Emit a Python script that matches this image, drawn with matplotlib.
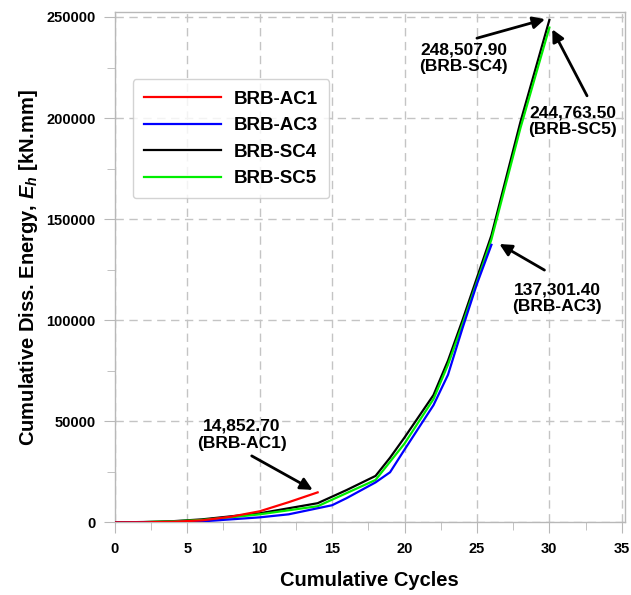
import matplotlib.pyplot as plt
from matplotlib.ticker import MultipleLocator

plt.rcParams['font.family'] = ['Liberation Sans', 'DejaVu Sans']
plt.rcParams['font.weight'] = 'bold'
plt.rcParams['mathtext.fontset'] = 'custom'
plt.rcParams['mathtext.rm'] = 'Liberation Sans:bold'
plt.rcParams['mathtext.it'] = 'Liberation Sans:italic:bold'

# cumulative cycles vs cumulative dissipated energy (kN.mm)
ac1_cycles = [0, 2, 4, 6, 8, 10, 12, 14]
ac1_energy = [0, 50, 300, 1000, 2800, 5500, 10000, 14852.70]

ac3_cycles = [0, 4, 6, 8, 10, 12, 13, 15, 16, 18, 19, 20, 21, 22, 23, 24, 25, 26]
ac3_energy = [0, 200, 500, 1500, 2500, 4000, 5500, 8500, 12000, 19800, 24800,
              36000, 47000, 58000, 73000, 96000, 118000, 137301.40]

sc4_cycles = [0, 2, 4, 6, 8, 10, 12, 14, 16, 18, 19, 20, 22, 23, 24, 26, 28, 30]
sc4_energy = [0, 200, 600, 1500, 3000, 4500, 7000, 9500, 16000, 23000, 32000,
              42000, 63000, 80000, 100000, 142000, 198000, 248507.90]

sc5_cycles = [0, 2, 4, 6, 8, 10, 12, 14, 16, 18, 19, 20, 22, 23, 24, 26, 28, 30]
sc5_energy = [0, 150, 500, 1200, 2500, 4000, 6000, 8000, 14500, 21000, 30000,
              39000, 61000, 78000, 98000, 140000, 195000, 244763.50]

fig = plt.figure(figsize=(6.31, 5.95), dpi=100)
ax = fig.add_axes([0.182, 0.122, 0.808, 0.858])

ax.plot(ac1_cycles, ac1_energy, color='#ff0000', lw=1.6, label='BRB-AC1', zorder=6)
ax.plot(ac3_cycles, ac3_energy, color='#0000ff', lw=1.6, label='BRB-AC3', zorder=5)
ax.plot(sc4_cycles, sc4_energy, color='black', lw=1.6, label='BRB-SC4', zorder=3)
ax.plot(sc5_cycles, sc5_energy, color='#00ee00', lw=1.6, label='BRB-SC5', zorder=4)

ax.set_xlim(0, 35.2)
ax.set_ylim(0, 252500)
ax.xaxis.set_major_locator(MultipleLocator(5))
ax.xaxis.set_minor_locator(MultipleLocator(2.5))
ax.yaxis.set_major_locator(MultipleLocator(50000))
ax.yaxis.set_minor_locator(MultipleLocator(25000))

ax.grid(True, which='major', color='#c4c4c4', ls=(0, (6, 4)), lw=1.0)
for s in ax.spines.values():
    s.set_color('#b8b8b8')
    s.set_linewidth(1.0)
ax.tick_params(which='both', color='#b8b8b8', direction='out', labelsize=10.5, pad=6)
ax.tick_params(which='major', length=8)
ax.tick_params(which='minor', length=6)

ax.set_xlabel('Cumulative Cycles', fontsize=14.5, fontweight='bold', labelpad=11)
ax.set_ylabel(r'Cumulative Diss. Energy, $E_h$ [kN.mm]', fontsize=14.5,
              fontweight='bold', labelpad=4)

leg = ax.legend(loc='upper left', bbox_to_anchor=(0.035, 0.868), borderaxespad=0,
                fontsize=13.5, handlelength=4.1, handletextpad=0.7, labelspacing=0.5,
                frameon=True, fancybox=True, edgecolor='#c8c8c8', borderpad=0.6)
leg.get_frame().set_linewidth(1.0)

# value callouts: (label, text position, arrow tail, arrow head)
callouts = [
    ('14,852.70\n(BRB-AC1)', (8.76, 43300), (9.45, 32900), (13.66, 16100)),
    ('248,507.90\n(BRB-SC4)', (24.1, 229600), (25.0, 239500), (29.7, 248900)),
    ('244,763.50\n(BRB-SC5)', (31.6, 198500), (32.6, 211000), (30.2, 243900)),
    ('137,301.40\n(BRB-AC3)', (30.55, 111000), (29.66, 124800), (26.55, 137700)),
]
for txt, pos, tail, head in callouts:
    ax.text(pos[0], pos[1], txt, ha='center', va='center', fontsize=12.5,
            fontweight='bold', linespacing=1.15, zorder=8)
    ax.annotate('', xy=head, xytext=tail,
                arrowprops=dict(arrowstyle='-|>', color='black', lw=2.0,
                                mutation_scale=18, shrinkA=0, shrinkB=0),
                zorder=8)

fig.savefig('out.png', dpi=100)
